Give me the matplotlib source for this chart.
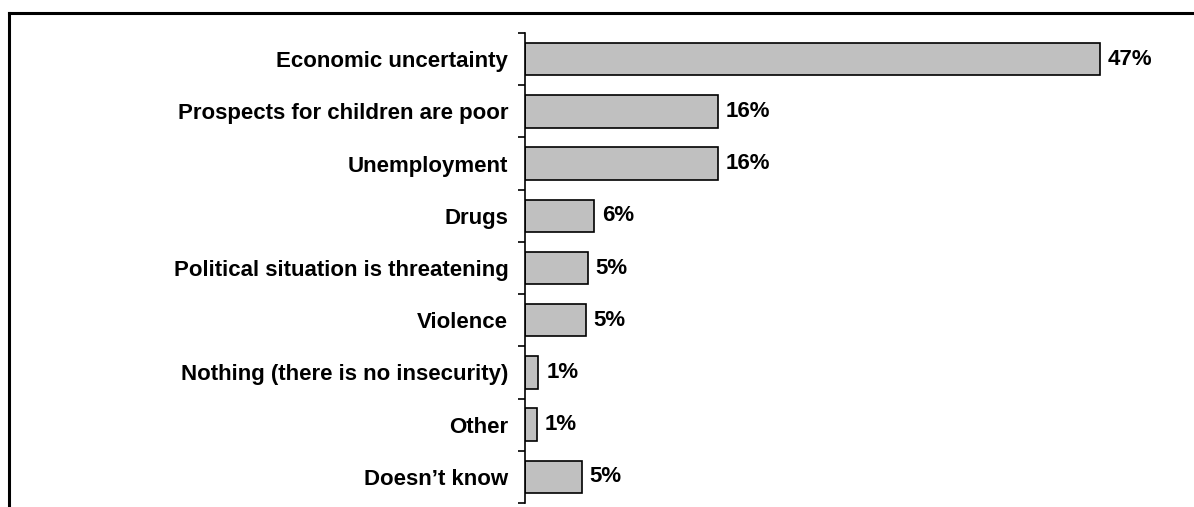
import matplotlib.pyplot as plt
import numpy as np
from matplotlib.lines import Line2D

categories = ['Economic uncertainty', 'Prospects for children are poor', 'Unemployment',
              'Drugs', 'Political situation is threatening', 'Violence',
              'Nothing (there is no insecurity)', 'Other', 'Doesn\u2019t know']
values = [47.5, 15.95, 15.95, 5.7, 5.2, 5.0, 1.1, 1.0, 4.7]
labels = ['47%', '16%', '16%', '6%', '5%', '5%', '1%', '1%', '5%']

plt.rcParams['font.family'] = ['Liberation Sans', 'DejaVu Sans']

fig = plt.figure(figsize=(11.94, 5.07), dpi=100)
W, H = 1194, 507
ax = fig.add_axes([525 / W, 1 - 503 / H, 1 - 525 / W, (503 - 33) / H])

y = np.arange(len(categories))
ax.barh(y, values, height=0.62, color='#c0c0c0', edgecolor='black', linewidth=1.2)
for yi, v, lab in zip(y, values, labels):
    ax.text(v + 0.65, yi, lab, va='center', ha='left', fontsize=16, fontweight='bold')

ax.set_ylim(len(categories) - 0.5, -0.5)
ax.set_xlim(0, (W - 525) / 12.1)
ax.set_yticks(y)
ax.set_yticklabels(categories, fontsize=16, fontweight='bold')
ax.tick_params(axis='y', which='major', length=0, pad=12)
ax.set_yticks(np.arange(len(categories) + 1) - 0.5, minor=True)
ax.tick_params(axis='y', which='minor', length=5, width=1.2, direction='out')
ax.set_xticks([])
for s in ['top', 'right', 'bottom']:
    ax.spines[s].set_visible(False)
ax.spines['left'].set_linewidth(1.2)

# outer frame (top and left only)
fig.add_artist(Line2D([8.5 / W, 1], [1 - 12.5 / H, 1 - 12.5 / H], color='black', linewidth=2.2,
                      transform=fig.transFigure))
fig.add_artist(Line2D([8.5 / W, 8.5 / W], [0, 1 - 12.5 / H], color='black', linewidth=2.2,
                      transform=fig.transFigure))

fig.savefig('out.png', dpi=100)
